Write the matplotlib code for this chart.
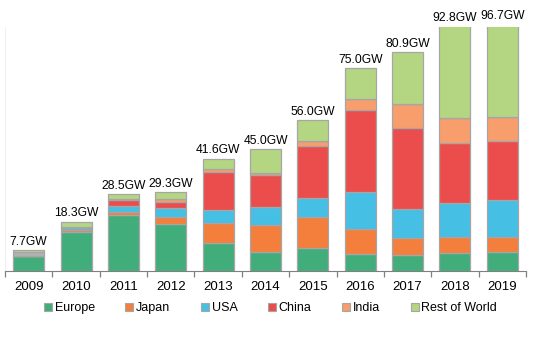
import matplotlib
matplotlib.use('Agg')
import matplotlib.pyplot as plt
from matplotlib.lines import Line2D
import numpy as np

plt.rcParams['font.family'] = ['Liberation Sans', 'DejaVu Sans']

years = ['2009', '2010', '2011', '2012', '2013', '2014', '2015', '2016', '2017', '2018', '2019']
totals = ['7.7GW', '18.3GW', '28.5GW', '29.3GW', '41.6GW', '45.0GW', '56.0GW', '75.0GW', '80.9GW', '92.8GW', '96.7GW']
total_vals = [7.7, 18.3, 28.5, 29.3, 41.6, 45.0, 56.0, 75.0, 80.9, 92.8, 96.7]

europe = [5.6, 14.6, 20.9, 17.5, 10.3, 7.0, 8.6, 6.4, 6.0, 6.5, 7.0]
japan  = [0.0, 0.6, 1.0, 2.5, 7.4, 10.2, 11.3, 9.1, 6.1, 6.1, 5.4]
usa    = [0.0, 0.8, 2.0, 3.3, 4.8, 6.5, 7.0, 13.7, 10.7, 12.7, 13.7]
china  = [0.0, 0.2, 2.5, 2.3, 14.3, 11.8, 19.3, 30.5, 30.2, 22.0, 21.9]
india  = [0.0, 0.1, 0.3, 1.0, 1.0, 0.8, 2.0, 3.8, 8.9, 9.3, 9.0]
other  = [1.6, 0.0, 0.0, 0.0, 0.0, 0.0, 0.0, 0.0, 0.0, 0.0, 0.0]  # grey block, 2009 only
row    = [0.5, 2.0, 1.8, 2.7, 3.8, 8.7, 7.8, 11.5, 19.0, 36.2, 39.7]

series = [('Europe', europe, '#41ad7b'),
          ('Japan', japan, '#f47f3d'),
          ('USA', usa, '#46bfe5'),
          ('China', china, '#ea4d4b'),
          ('India', india, '#f89d6c'),
          (None, other, '#b2b2b2'),
          ('Rest of World', row, '#b4d683')]

fig = plt.figure(figsize=(5.33, 3.54), dpi=100)
ax = fig.add_axes([5/533, 1 - 271/354, 521/533, (271 - 27.3)/354])

x = np.arange(len(years))
bottom = np.zeros(len(years))
for name, vals, col in series:
    v = np.array(vals)
    ax.bar(x, v, bottom=bottom, width=0.655, color=col, edgecolor='#a6a6a6', linewidth=0.9)
    bottom += v

ymax = 90.2
ax.set_ylim(0, ymax)
ax.set_xlim(-0.5, len(years) - 0.5)

# bars above ymax are cut off; their labels sit a bit higher
for i, lab in enumerate(totals):
    y = min(total_vals[i], ymax)
    off = 1.9
    if total_vals[i] > ymax:
        off += (total_vals[i] - ymax) * 0.18
    ax.text(x[i], y + off, lab, ha='center', va='baseline', fontsize=8.7, clip_on=False)

ax.set_xticks(x)
ax.set_xticklabels(years, fontsize=9.5)
ax.set_xticks(np.arange(-0.5, len(years)), minor=True)
ax.tick_params(axis='x', which='major', length=0, pad=7)
ax.tick_params(axis='x', which='minor', length=4, color='#808080', width=0.9)
ax.set_yticks([])
for s in ['top', 'right']:
    ax.spines[s].set_visible(False)
ax.spines['left'].set_color('#f0f0f0')
ax.spines['bottom'].set_color('#808080')

handles = [Line2D([], [], marker='s', linestyle='none', markersize=6,
                  markerfacecolor=col, markeredgecolor='#a6a6a6', markeredgewidth=0.8)
           for name, vals, col in series if name]
labels = [name for name, vals, col in series if name]
fig.legend(handles, labels, loc='center', bbox_to_anchor=(270.4/533, 1 - 308/354),
           ncol=6, frameon=False, fontsize=9, handlelength=0.7, handletextpad=0.2,
           columnspacing=2.4, borderpad=0)

fig.savefig('out.png', dpi=100)
